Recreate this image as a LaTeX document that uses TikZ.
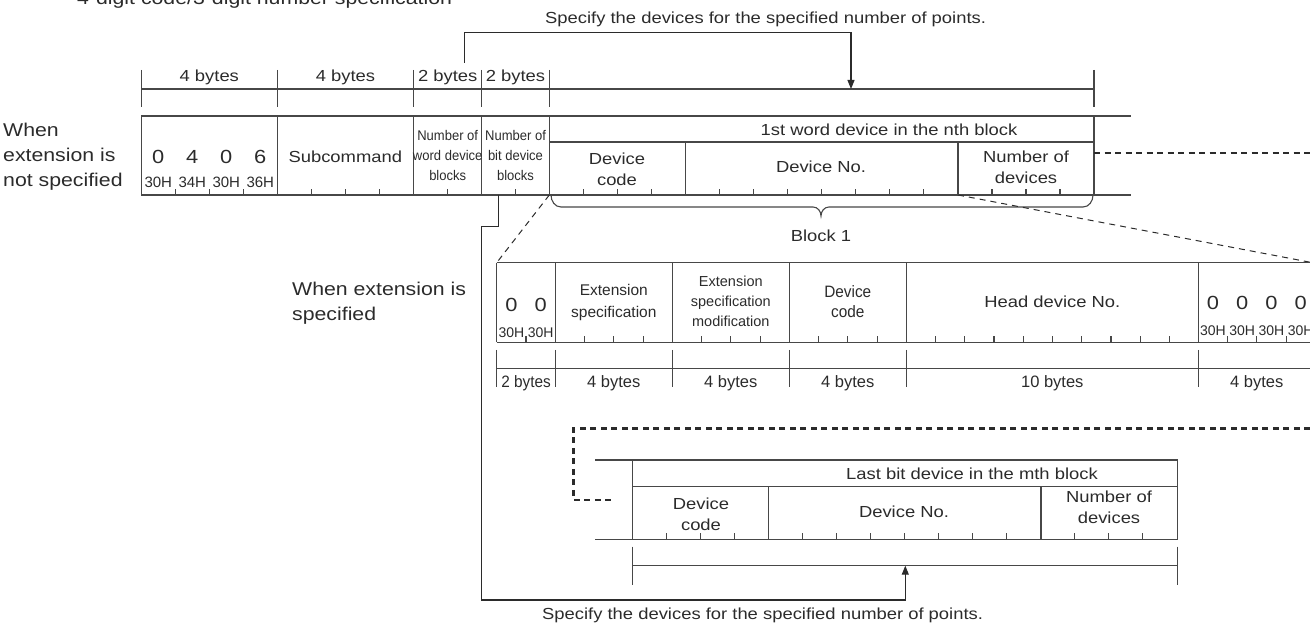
\documentclass[tikz,border=0pt]{standalone}
\usepackage{fontspec}
\newfontfamily\widesf{Liberation Sans}[FakeStretch=1.15]
\newfontfamily\narrowsf{Liberation Sans}[FakeStretch=0.93]
\newfontfamily\plainsf{Liberation Sans}
\usetikzlibrary{arrows.meta}
\definecolor{ink}{HTML}{2B2B2B}
\definecolor{rule}{HTML}{474747}
\tikzset{
  >={Triangle[length=9pt,width=7pt]},
  frame/.style={draw=rule,line width=1.4pt},
  guide/.style={draw=rule,line width=1.1pt},
  tick/.style={draw=rule,line width=1.1pt},
  pointer/.style={->,draw=ink,line width=1.1pt},
  dotlink/.style={draw=ink,line width=2.6pt,dash pattern=on 6pt off 4.5pt},
  dashlink/.style={draw=ink,line width=1pt,dash pattern=on 6pt off 5pt},
  txt/.style={text=ink,inner sep=0pt,align=center},
  big/.style={txt,font=\widesf\fontsize{18.5}{25}\selectfont},
  lbl/.style={txt,font=\widesf\fontsize{16}{21}\selectfont},
  nar/.style={txt,font=\narrowsf\fontsize{14}{20}\selectfont},
  hexa/.style={txt,font=\plainsf\fontsize{15}{18}\selectfont},
  hexb/.style={txt,font=\plainsf\fontsize{14}{18}\selectfont},
  digit/.style={txt,font=\widesf\fontsize{19}{22}\selectfont},
  extf/.style={txt,font=\plainsf\fontsize{15.5}{22}\selectfont},
  extm/.style={txt,font=\plainsf\fontsize{14.5}{20}\selectfont},
  extc/.style={txt,font=\narrowsf\fontsize{16.5}{20}\selectfont},
  bytes/.style={txt,font=\plainsf\fontsize{16.5}{20}\selectfont}
}

\begin{document}
\begin{tikzpicture}[x=1pt,y=-1pt]
  \useasboundingbox (0,0) rectangle (1310,628);
  \node[big,anchor=base west] (title) at (77,5) {4-digit code/3-digit number specification};

  % when extension is not specified
  \node[big,align=left,anchor=west] (noext) at (3,157) {When\\extension is\\not specified};
  \foreach \x in {141.3,277.3,413.7,481.7,549.3,1094} \draw[guide] (\x,70) -- (\x,107);
  \draw[guide] (141.3,89) -- (1094,89);
  \foreach \x/\t [count=\i] in {209.3/4 bytes,345.5/4 bytes,447.7/2 bytes,515.5/2 bytes}
    \node[lbl,anchor=base] (hb\i) at (\x,82) {\t};
  \draw[frame] (141.3,116) -- (1131,116) (141.3,195) -- (1131,195) (549.3,142) -- (1094,142);
  \foreach \x in {141.3,277.3,413.7,481.7,549.3,1094} \draw[frame] (\x,116) -- (\x,195);
  \foreach \x in {685.4,958} \draw[frame] (\x,142) -- (\x,195);
  \foreach \s/\n in {141.3/3,277.3/3,413.7/1,481.7/1,549.3/3,685.4/7,958/3}
    \foreach \k in {1,...,\n} \draw[tick] ({\s+34*\k},195) -- ++(0,-6);
  \foreach \d/\h [count=\i] in {0/30H,4/34H,0/30H,6/36H}{
    \node[digit] (cd\i) at ({124.3+34*\i},157) {\d};
    \node[hexa] (ch\i) at ({124.3+34*\i},182) {\h};
  }
  \node[lbl] (subcmd) at (345.3,157) {Subcommand};
  \node[nar] (wblk) at (447.7,155) {Number of\\word device\\blocks};
  \node[nar] (bblk) at (515.5,155) {Number of\\bit device\\blocks};
  \node[lbl] (wfirst) at (889,130) {1st word device in the nth block};
  \node[lbl] (wcode) at (617,169) {Device\\code};
  \node[lbl] (wno) at (821,167) {Device No.};
  \node[lbl] (wnum) at (1026,167) {Number of\\devices};
  \draw[guide] (551,195) to[out=-90,in=180] (561,207) -- (813,207) to[out=0,in=90] (821,216)
    to[out=90,in=180] (829,207) -- (1083,207) to[out=0,in=-90] (1093,195);
  \node[lbl] (blk) at (821,236) {Block 1};

  % pointers
  \node[lbl,anchor=base west] (specT) at (545,24) {Specify the devices for the specified number of points.};
  \coordinate (wfoot) at (464.3,62.7);
  \coordinate (wtop) at (851,89);
  \draw[pointer] (wfoot) -- ++(0,-30.2) -| (wtop);
  \coordinate (bfoot) at (498.3,195);
  \coordinate (lbar) at (905.3,565.7);
  \draw[pointer] (bfoot) -- ++(0,31.7) -- ++(-16.6,0) -- ++(0,373.3) -| (lbar);
  \node[lbl,anchor=base west] (specB) at (542,619) {Specify the devices for the specified number of points.};

  % zoom lines
  \coordinate (zl1) at (549.3,195); \coordinate (zl2) at (496.7,262.7);
  \coordinate (zr1) at (958,195); \coordinate (zr2) at (1310,262.2);
  \draw[dashlink] (zl1) -- (zl2);
  \draw[dashlink] (zr1) -- (zr2);
  \coordinate (dt1) at (1094,153); \coordinate (dt2) at (1310,153);
  \draw[dotlink] (dt1) -- (dt2);

  % when extension is specified
  \node[big,align=left,anchor=west] (ext) at (292,303) {When extension is\\specified};
  \draw[frame] (496.7,262.7) -- (1310,262.7) (496.7,342.5) -- (1310,342.5);
  \foreach \x in {496.7,555.3,672.3,789.3,906.2,1198.3} \draw[frame] (\x,262.7) -- (\x,342.5);
  \foreach \s/\n in {496.7/1,555.3/3,672.3/3,789.3/3,906.2/9,1198.3/3}
    \foreach \k in {1,...,\n} \draw[tick] ({\s+29.25*\k},342.5) -- ++(0,-6);
  \foreach \i in {1,2}{
    \node[digit] (ed\i) at ({482.1+29.25*\i},305) {0};
    \node[hexb] (eh\i) at ({482.1+29.25*\i},333) {30H};
  }
  \foreach \i in {1,...,4}{
    \node[digit] (zd\i) at ({1183.7+29.25*\i},303) {0};
    \node[hexb] (zh\i) at ({1183.7+29.25*\i},331) {30H};
  }
  \node[extf] (espec) at (613.8,302) {Extension\\specification};
  \node[extm] (emod) at (730.8,301.5) {Extension\\specification\\modification};
  \node[extc] (ecode) at (847.8,301.7) {Device\\code};
  \node[lbl] (ehead) at (1052.3,301.7) {Head device No.};
  \foreach \x in {496.7,555.3,672.3,789.3,906.2,1198.3} \draw[guide] (\x,350) -- (\x,387);
  \draw[guide] (496.7,368.5) -- (1310,368.5);
  \node[bytes,anchor=base,font=\narrowsf\fontsize{16.5}{20}\selectfont] (eb1) at (526,388) {2 bytes};
  \foreach \x/\t [count=\i from 2] in {613.8/4 bytes,730.8/4 bytes,847.8/4 bytes,1052.3/10 bytes,1256.8/4 bytes}
    \node[bytes,anchor=base] (eb\i) at (\x,388) {\t};

  % last bit device
  \draw[dotlink] (1310,428.3) -- (573.5,428.3) -- (573.5,500) -- (611.7,500);
  \draw[frame] (595,460) -- (1177.6,460) (595,539.3) -- (1177.6,539.3) (632.6,486.7) -- (1177.6,486.7);
  \foreach \x in {632.6,1177.6} \draw[frame] (\x,460) -- (\x,539.3);
  \foreach \x in {768.5,1040.8} \draw[frame] (\x,486.7) -- (\x,539.3);
  \foreach \s/\n in {632.6/3,768.5/7,1040.8/3}
    \foreach \k in {1,...,\n} \draw[tick] ({\s+34*\k},539.3) -- ++(0,-6);
  \node[lbl] (blast) at (972,474) {Last bit device in the mth block};
  \node[lbl] (bcode) at (701,514) {Device\\code};
  \node[lbl] (bno) at (904,511.7) {Device No.};
  \node[lbl] (bnum) at (1109,507.5) {Number of\\devices};
  \draw[guide] (632.6,546.7) -- (632.6,585) (1177.6,546.7) -- (1177.6,585) (632.6,565.7) -- (1177.6,565.7);
\end{tikzpicture}
\end{document}
